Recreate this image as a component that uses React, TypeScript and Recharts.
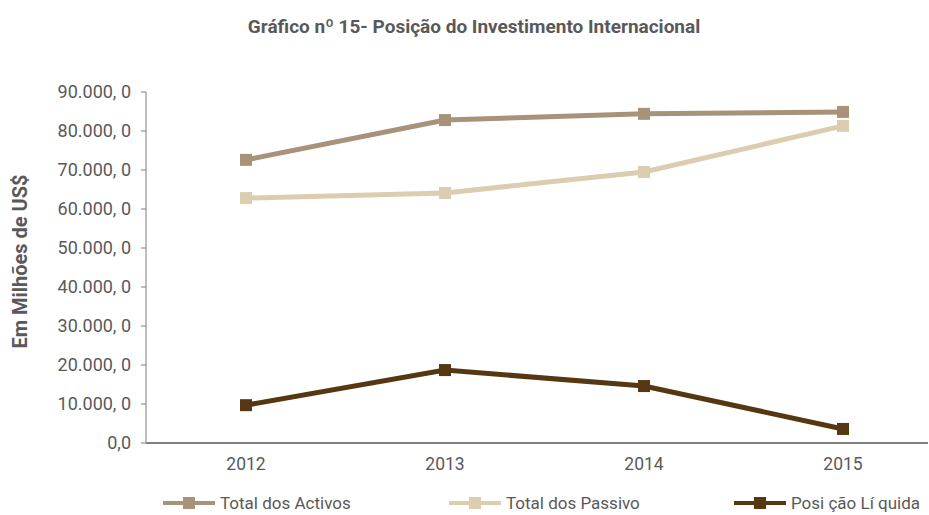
import { CartesianGrid, Line, LineChart, XAxis, YAxis } from "recharts";

const years = ["2012", "2013", "2014", "2015"];
const totalActivos = [72600, 82800, 84400, 84900];
const totalPassivo = [62800, 64100, 69500, 81300];
const posicaoLiquida = [9700, 18700, 14600, 3600];
const yTicks = [0, 10000, 20000, 30000, 40000, 50000, 60000, 70000, 80000, 90000];

const series = [
  { key: "activos", name: "Total dos Activos", color: "#a8927a" },
  { key: "passivo", name: "Total dos Passivo", color: "#dccdb0" },
  { key: "liquida", name: "Posi ção Lí quida", color: "#553811" },
];

const data = years.map((year, i) => ({
  year,
  activos: totalActivos[i],
  passivo: totalPassivo[i],
  liquida: posicaoLiquida[i],
}));

const FONT = "Roboto, sans-serif";
const GREY = "#595959";

function formatTick(v: number) {
  if (v === 0) return "0,0";
  return `${v / 1000}.000, 0`;
}

function SquareDot(color: string) {
  return (props: any) => {
    const { cx, cy, index } = props;
    if (cx == null || cy == null) return <g key={index} />;
    return <rect key={index} x={cx - 6} y={cy - 6} width={12} height={12} fill={color} />;
  };
}

const legendPos = [163, 449, 734];

export default function App() {
  return (
    <div style={{ position: "absolute", left: 0, top: 0, width: 929, height: 515, fontFamily: FONT }}>
      <div
        style={{
          position: "absolute",
          left: 0,
          width: 948,
          top: 15,
          textAlign: "center",
          fontWeight: "bold",
          fontSize: 19,
          color: GREY,
          whiteSpace: "nowrap",
        }}
      >
        Gráfico nº 15- Posição do Investimento Internacional
      </div>
      <LineChart
        width={929}
        height={515}
        data={data}
        margin={{ top: 92, right: 1, bottom: 42, left: 0 }}
      >
        <CartesianGrid stroke="none" />
        <XAxis
          dataKey="year"
          scale="point"
          padding={{ left: 100, right: 85 }}
          height={30}
          tickLine={false}
          axisLine={{ stroke: "#7f7f7f", strokeWidth: 2 }}
          tick={{ fill: GREY, fontSize: 17.5, fontFamily: FONT }}
          tickMargin={9}
        />
        <YAxis
          width={146}
          domain={[0, 90000]}
          ticks={yTicks}
          interval={0}
          tickFormatter={formatTick}
          tickSize={5}
          tickMargin={10}
          axisLine={{ stroke: "#7f7f7f" }}
          tickLine={{ stroke: "#7f7f7f" }}
          tick={{ fill: GREY, fontSize: 18, fontFamily: FONT }}
          label={{
            value: "Em Milhões de US$",
            angle: -90,
            position: "insideLeft",
            offset: 20,
            dy: -6,
            style: {
              fill: GREY,
              fontWeight: "bold",
              fontSize: 20,
              fontFamily: FONT,
              textAnchor: "middle",
            },
          }}
        />
        {series.map((s) => (
          <Line
            key={s.key}
            type="linear"
            dataKey={s.key}
            name={s.name}
            stroke={s.color}
            strokeWidth={5}
            dot={SquareDot(s.color)}
            activeDot={false}
            isAnimationActive={false}
          />
        ))}
      </LineChart>
      {series.map((s, i) => (
        <div
          key={s.key}
          style={{
            position: "absolute",
            left: legendPos[i],
            top: 493,
            display: "flex",
            alignItems: "center",
            fontSize: 17,
            color: GREY,
            whiteSpace: "nowrap",
          }}
        >
          <svg width={52} height={14} style={{ marginRight: 5 }}>
            <rect x={0} y={5} width={52} height={4} fill={s.color} />
            <rect x={20} y={1} width={12} height={12} fill={s.color} />
          </svg>
          {s.name}
        </div>
      ))}
    </div>
  );
}
